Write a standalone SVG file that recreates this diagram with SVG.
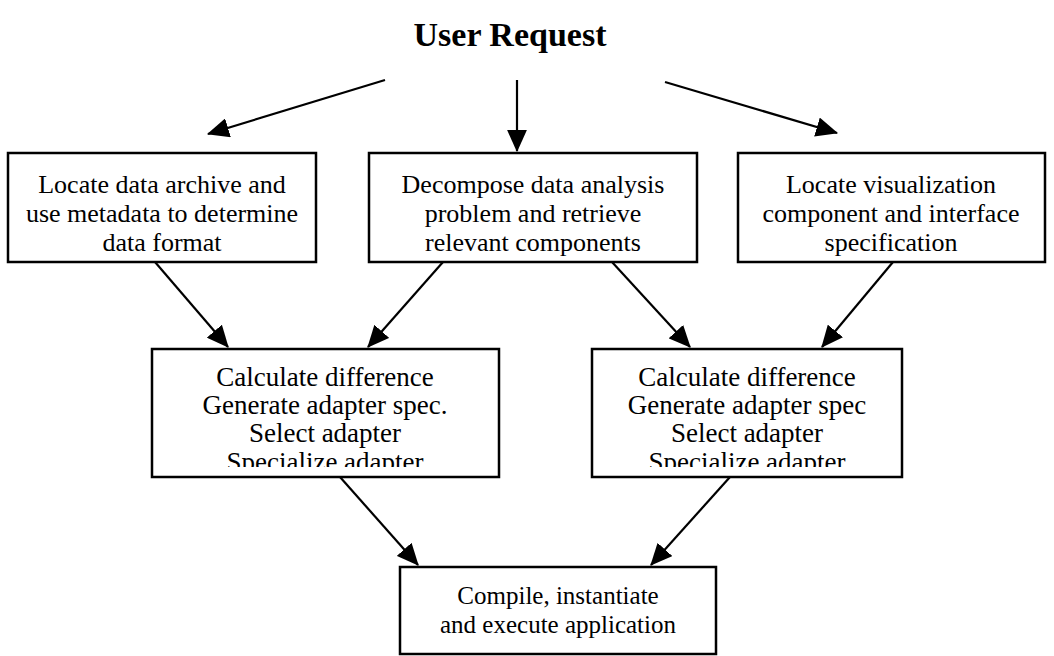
<svg xmlns="http://www.w3.org/2000/svg" width="1054" height="656" viewBox="0 0 1054 656">
<style>
.box{fill:#fff;stroke:#000;stroke-width:2.5}
.t{font-family:"Liberation Serif","Times New Roman",serif;font-size:26px;fill:#000;text-anchor:middle}
.t2{font-family:"Liberation Serif","Times New Roman",serif;font-size:27px;fill:#000;text-anchor:middle}
.t3{font-family:"Liberation Serif","Times New Roman",serif;font-size:25px;fill:#000;text-anchor:middle}
.title{font-family:"Liberation Serif","Times New Roman",serif;font-size:34px;font-weight:bold;fill:#000;text-anchor:middle}
.c{stroke:#000;stroke-width:2.2;fill:none;marker-end:url(#ah)}
</style>
<defs>
<marker id="ah" markerWidth="10" markerHeight="9" refX="9.5" refY="4.5" orient="auto" markerUnits="strokeWidth">
<path d="M0,0 L10,4.5 L0,9 Z" fill="#000"/>
</marker>
<clipPath id="clipD"><rect x="152" y="349" width="347" height="118"/></clipPath>
<clipPath id="clipE"><rect x="592" y="349" width="310" height="118"/></clipPath>
</defs>
<rect width="1054" height="656" fill="#fff"/>
<text class="title" x="510" y="46">User Request</text>
<g id="connectors">
<line class="c" x1="385" y1="80" x2="208" y2="134"/>
<line class="c" x1="517" y1="80" x2="517" y2="151"/>
<line class="c" x1="665" y1="82" x2="837" y2="133"/>
<line class="c" x1="155" y1="262" x2="228" y2="347"/>
<line class="c" x1="443" y1="262" x2="368" y2="347"/>
<line class="c" x1="612" y1="262" x2="690" y2="347"/>
<line class="c" x1="893" y1="262" x2="822" y2="347"/>
<line class="c" x1="340" y1="477" x2="418" y2="565"/>
<line class="c" x1="730" y1="477" x2="651" y2="565"/>
</g>
<g id="nodeA">
<rect class="box" x="8" y="153" width="308" height="109"/>
<text class="t" x="162" y="193">Locate data archive and</text>
<text class="t" x="162" y="222">use metadata to determine</text>
<text class="t" x="162" y="251">data format</text>
</g>
<g id="nodeB">
<rect class="box" x="369" y="153" width="328" height="109"/>
<text class="t" x="533" y="193">Decompose data analysis</text>
<text class="t" x="533" y="222">problem and retrieve</text>
<text class="t" x="533" y="251">relevant components</text>
</g>
<g id="nodeC">
<rect class="box" x="738" y="153" width="307" height="109"/>
<text class="t" x="891" y="193">Locate visualization</text>
<text class="t" x="891" y="222">component and interface</text>
<text class="t" x="891" y="251">specification</text>
</g>
<g id="nodeD">
<rect class="box" x="152" y="349" width="347" height="128"/>
<g clip-path="url(#clipD)">
<text class="t2" x="325" y="386">Calculate difference</text>
<text class="t2" x="325" y="414">Generate adapter spec.</text>
<text class="t2" x="325" y="442">Select adapter</text>
<text class="t2" x="325" y="471">Specialize adapter</text>
</g>
</g>
<g id="nodeE">
<rect class="box" x="592" y="349" width="310" height="128"/>
<g clip-path="url(#clipE)">
<text class="t2" x="747" y="386">Calculate difference</text>
<text class="t2" x="747" y="414">Generate adapter spec</text>
<text class="t2" x="747" y="442">Select adapter</text>
<text class="t2" x="747" y="471">Specialize adapter</text>
</g>
</g>
<g id="nodeF">
<rect class="box" x="400" y="567" width="316" height="87"/>
<text class="t3" x="558" y="604">Compile, instantiate</text>
<text class="t3" x="558" y="633">and execute application</text>
</g>
</svg>
